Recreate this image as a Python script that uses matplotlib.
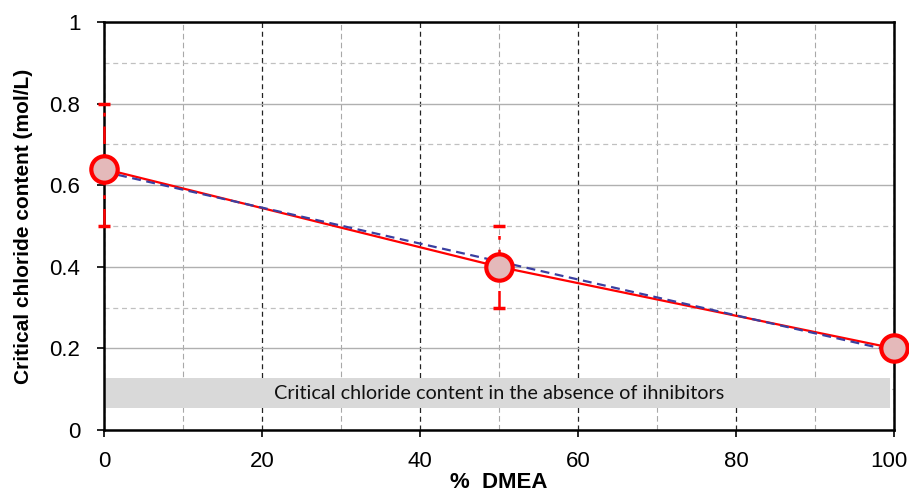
import matplotlib
matplotlib.use("Agg")
import matplotlib.pyplot as plt
import matplotlib.transforms as mtransforms
from matplotlib.ticker import MultipleLocator

dmea = [0, 50, 100]
chloride = [0.64, 0.40, 0.20]
err_low = [0.14, 0.10, 0.0]
err_high = [0.16, 0.10, 0.0]
trend_x = [0, 100]
trend_y = [0.633, 0.193]
band_range = [0.054, 0.127]
band_text = "Critical chloride content in the absence of ihnibitors"
xticks = [0, 20, 40, 60, 80, 100]
yticks = [0, 0.2, 0.4, 0.6, 0.8, 1]
ytick_labels = ["0", "0.2", "0.4", "0.6", "0.8", "1"]

plt.rcParams['font.family'] = ['Liberation Sans', 'DejaVu Sans']

fig = plt.figure(figsize=(9.09, 4.93), dpi=100)
ax = fig.add_axes([104/909, 63/493, 790/909, 408/493])

ax.set_xlim(0, 100)
ax.set_ylim(0, 1)

# grid
ax.xaxis.set_major_locator(MultipleLocator(20))
ax.xaxis.set_minor_locator(MultipleLocator(10))
ax.yaxis.set_major_locator(MultipleLocator(0.2))
ax.yaxis.set_minor_locator(MultipleLocator(0.1))
ax.grid(True, axis='x', which='major', color='#222222', linestyle=(0, (4, 3)), linewidth=0.9)
ax.grid(True, axis='x', which='minor', color='#a8a8a8', linestyle=(0, (5, 3)), linewidth=0.8)
ax.grid(True, axis='y', which='major', color='#b0b0b0', linestyle='-', linewidth=1.0)
ax.grid(True, axis='y', which='minor', color='#c0c0c0', linestyle=(0, (4, 3)), linewidth=0.9)
ax.set_axisbelow(True)

# band
ax.axhspan(band_range[0], band_range[1], xmin=0.0, xmax=0.995, color='#d9d9d9', zorder=1.5, lw=0)
ax.text(50, sum(band_range) / 2, band_text, ha='center', va='center',
        fontsize=14.3, family=['Lato', 'DejaVu Sans'], color='#111111', zorder=2)

# error bars
eb = ax.errorbar(dmea[:2], chloride[:2], yerr=[err_low[:2], err_high[:2]], fmt='none',
                 ecolor='red', elinewidth=1.8, capsize=4.5, capthick=2.5, zorder=3, clip_on=False)
for lc in eb[2]:
    lc.set_linestyle((0, (7, 4, 1.5, 4)))

# data line
ax.plot(dmea, chloride, color='red', lw=1.6, zorder=4)
# trend line
ax.plot(trend_x, trend_y, color='#3a3fa0', lw=1.6, linestyle=(0, (4, 2.5)), zorder=5)
# markers
ax.plot(dmea, chloride, 'o', ms=19, markerfacecolor='#e4b9ba', markeredgecolor='red',
        markeredgewidth=3, zorder=6, clip_on=False)

ax.set_xticks(xticks)
ax.set_yticks(yticks)
ax.set_yticklabels(ytick_labels)
ax.tick_params(axis='both', which='major', labelsize=16, length=5, width=1.2,
               direction='out', colors='black')
ax.tick_params(axis='y', which='major', pad=12)
ax.tick_params(axis='x', which='major', pad=10)
ax.tick_params(axis='both', which='minor', length=0)

# nudge last x tick label inward like the reference
last = ax.get_xticklabels()[-1]
last.set_transform(last.get_transform() + mtransforms.ScaledTranslation(-5/100, 0, fig.dpi_scale_trans))

for s in ax.spines.values():
    s.set_color('black')
    s.set_linewidth(1.8)

ax.set_xlabel('%  DMEA', fontsize=16, fontweight='bold', labelpad=0)
ax.set_ylabel('Critical chloride content (mol/L)', fontsize=15, fontweight='bold', labelpad=12)

fig.savefig('out.png', dpi=100)
